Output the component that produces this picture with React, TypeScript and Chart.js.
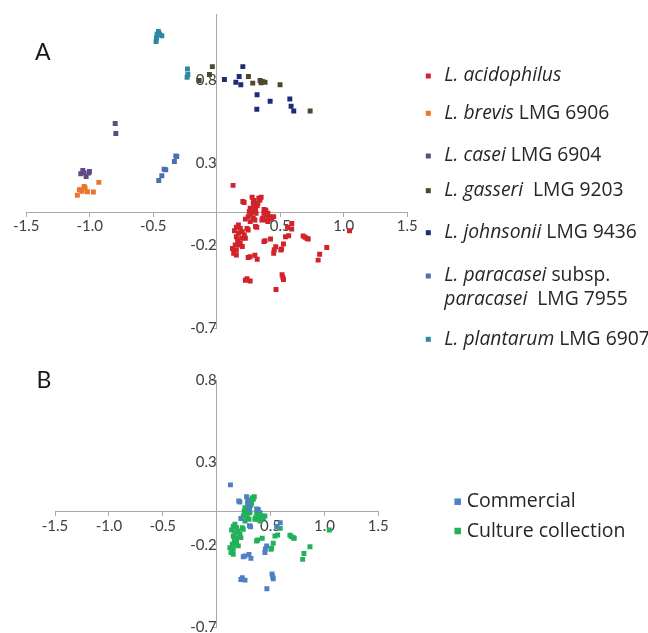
import React, { useEffect, useRef } from 'react';
import { Chart, registerables } from 'chart.js';

Chart.register(...registerables);

// ---------- data ----------
const X_TICKS = [-1.5, -1.0, -0.5, 0.5, 1.0, 1.5];
const Y_TICKS = [-0.7, -0.2, 0.3, 0.8];

// L. acidophilus strains split by origin (panel B); panel A shows them all together
const COMMERCIAL: [number, number][] = [
  [0.128, 0.164], [0.215, 0.06], [0.205, 0.066], [0.278, 0.092], [0.296, 0.034], [0.305, 0.02],
  [0.372, 0.018], [0.386, 0.014], [0.225, -0.04], [0.305, -0.084], [0.315, -0.09], [0.59, -0.066],
  [0.557, -0.09], [0.464, -0.207], [0.452, -0.225], [0.448, -0.246], [0.247, -0.272], [0.262, -0.268],
  [0.3, -0.258], [0.318, -0.282], [0.225, -0.41], [0.238, -0.4], [0.263, -0.414], [0.514, -0.376],
  [0.52, -0.392], [0.525, -0.405], [0.466, -0.466], [0.29, 0.07],
];
const CULTURE: [number, number][] = [
  [0.331, 0.086], [0.349, 0.092], [0.34, 0.076], [0.293, 0.072], [0.287, 0.056], [0.324, 0.056],
  [0.318, 0.04], [0.263, 0.026], [0.278, 0.016], [0.256, 0.006], [0.293, 0.006], [0.309, -0.005],
  [0.269, -0.009], [0.247, -0.025], [0.287, -0.035], [0.263, -0.055], [0.3, -0.045], [0.371, -0.005],
  [0.386, -0.015], [0.402, -0.005], [0.417, -0.025], [0.361, -0.035], [0.386, -0.045], [0.433, -0.035],
  [0.448, -0.025], [0.411, -0.041], [0.355, -0.045], [0.402, -0.055], [0.17, -0.075], [0.154, -0.089],
  [0.185, -0.096], [0.139, -0.11], [0.201, -0.116], [0.17, -0.126], [0.216, -0.136], [0.154, -0.146],
  [0.195, -0.156], [0.225, -0.156], [0.164, -0.17], [0.185, -0.186], [0.145, -0.196], [0.176, -0.197],
  [0.201, -0.206], [0.123, -0.217], [0.154, -0.227], [0.133, -0.247], [0.154, -0.257], [0.238, -0.096],
  [0.247, -0.106], [0.371, -0.176], [0.38, -0.17], [0.423, -0.16], [0.525, -0.19], [0.51, -0.221],
  [0.504, -0.227], [0.541, -0.146], [0.566, -0.14], [0.68, -0.142], [0.695, -0.15], [0.72, -0.16],
  [0.711, -0.157], [0.866, -0.211], [0.81, -0.252], [0.798, -0.288], [1.045, -0.11], [0.59, -0.1],
];
const ACIDOPHILUS: [number, number][] = [...COMMERCIAL, ...CULTURE];
const BREVIS: [number, number][] = [
  [-0.929, 0.182], [-1.045, 0.158], [-1.082, 0.138], [-1.061, 0.128], [-1.019, 0.126],
  [-0.972, 0.124], [-1.098, 0.104], [-1.037, 0.148], [-1.07, 0.138],
];
const CASEI: [number, number][] = [
  [-0.8, 0.538], [-0.795, 0.478], [-1.055, 0.254], [-1.071, 0.234], [-1.029, 0.218],
  [-1.003, 0.248], [-1.008, 0.238], [-1.05, 0.242],
];
const GASSERI: [number, number][] = [
  [-0.035, 0.882], [-0.058, 0.834], [-0.139, 0.798], [0.249, 0.822], [0.283, 0.782], [0.341, 0.798],
  [0.359, 0.792], [0.38, 0.788], [0.349, 0.784], [0.498, 0.772], [0.735, 0.614],
];
const JOHNSONII: [number, number][] = [
  [0.06, 0.804], [0.205, 0.882], [0.176, 0.822], [0.15, 0.788], [0.189, 0.772], [0.317, 0.712],
  [0.42, 0.672], [0.315, 0.624], [0.575, 0.686], [0.585, 0.642], [0.606, 0.614],
];
const PARACASEI: [number, number][] = [
  [-0.323, 0.342], [-0.315, 0.338], [-0.334, 0.308], [-0.402, 0.258], [-0.415, 0.262],
  [-0.433, 0.222], [-0.457, 0.194],
];
const PLANTARUM: [number, number][] = [
  [-0.46, 1.094], [-0.47, 1.078], [-0.433, 1.068], [-0.475, 1.054], [-0.478, 1.034], [-0.45, 1.08],
  [-0.231, 0.868], [-0.228, 0.834], [-0.234, 0.818],
];

type Seg = [string, boolean]; // [text, italic]
const SERIES_A: { label: Seg[][]; color: string; data: [number, number][] }[] = [
  { label: [[['L. acidophilus', true]]], color: '#d0232a', data: ACIDOPHILUS },
  { label: [[['L. brevis', true], [' LMG 6906', false]]], color: '#e8772a', data: BREVIS },
  { label: [[['L. casei', true], [' LMG 6904', false]]], color: '#604a86', data: CASEI },
  { label: [[['L. gasseri', true], ['  LMG 9203', false]]], color: '#4a4a2c', data: GASSERI },
  { label: [[['L. johnsonii', true], [' LMG 9436', false]]], color: '#1f2b78', data: JOHNSONII },
  {
    label: [[['L. paracasei', true], [' subsp.', false]], [['paracasei', true], ['  LMG 7955', false]]],
    color: '#4a70ad', data: PARACASEI,
  },
  { label: [[['L. plantarum', true], [' LMG 6907', false]]], color: '#2f87a0', data: PLANTARUM },
];
const SERIES_B: { label: Seg[][]; color: string; data: [number, number][] }[] = [
  { label: [[['Commercial', false]]], color: '#4f7fc4', data: COMMERCIAL },
  { label: [[['Culture collection', false]]], color: '#22b15a', data: CULTURE },
];

// ---------- styling helpers ----------
const FONT = 'Lato, "Open Sans", sans-serif';
const LEGEND_FONT = '"Open Sans", Lato, sans-serif';
const AXIS_COLOR = '#a8a8a8';
const TICK_COLOR = '#404040';

function makeScales(yMax: number) {
  return {
    x: {
      type: 'linear' as const,
      min: -1.5,
      max: 1.5,
      position: { y: 0 },
      afterBuildTicks: (s: any) => { s.ticks = X_TICKS.map((v) => ({ value: v })); },
      ticks: {
        autoSkip: false, maxRotation: 0, padding: 1, color: TICK_COLOR,
        font: { size: 15, family: FONT },
        callback: (v: any) => Number(v).toFixed(1),
      },
      grid: { drawOnChartArea: false, drawTicks: true, tickLength: 4, color: AXIS_COLOR },
      border: { color: AXIS_COLOR, width: 1 },
    },
    y: {
      type: 'linear' as const,
      min: -0.7,
      max: yMax,
      position: { x: 0 },
      afterBuildTicks: (s: any) => { s.ticks = Y_TICKS.map((v) => ({ value: v })); },
      ticks: {
        autoSkip: false, padding: 3, color: TICK_COLOR,
        font: { size: 15, family: FONT },
        callback: (v: any) => Number(v).toFixed(1),
      },
      grid: { drawOnChartArea: false, drawTicks: true, tickLength: 4, color: AXIS_COLOR },
      border: { color: AXIS_COLOR, width: 1 },
    },
  };
}

function overlay(cfg: {
  series: { label: Seg[][]; color: string }[];
  rows: number[]; markerX: number; markerSize: number; textX: number; lineGap: number; fontSize: number;
  panel: string; panelX: number; panelY: number;
}) {
  return {
    id: 'overlay' + cfg.panel,
    afterDraw(chart: any) {
      const ctx = chart.ctx as CanvasRenderingContext2D;
      ctx.save();
      cfg.series.forEach((s, i) => {
        const y = cfg.rows[i];
        ctx.fillStyle = s.color;
        ctx.fillRect(cfg.markerX - cfg.markerSize / 2, y - cfg.markerSize / 2, cfg.markerSize, cfg.markerSize);
        s.label.forEach((line, li) => {
          let x = cfg.textX;
          const ly = y + li * cfg.lineGap;
          for (const [t, it] of line) {
            ctx.font = `${it ? 'italic ' : ''}${cfg.fontSize}px ${LEGEND_FONT}`;
            ctx.fillStyle = '#262626';
            ctx.textBaseline = 'middle';
            ctx.textAlign = 'left';
            ctx.fillText(t, x, ly);
            x += ctx.measureText(t).width;
          }
        });
      });
      ctx.font = `23px ${FONT}`;
      ctx.fillStyle = '#1a1a1a';
      ctx.textBaseline = 'alphabetic';
      ctx.textAlign = 'left';
      ctx.fillText(cfg.panel, cfg.panelX, cfg.panelY);
      ctx.restore();
    },
  };
}

function datasets(series: { label: Seg[][]; color: string; data: [number, number][] }[]) {
  return series.map((s) => ({
    label: s.label.map((l) => l.map((p) => p[0]).join('')).join(' '),
    data: s.data.map(([x, y]) => ({ x, y })),
    backgroundColor: s.color,
    borderColor: s.color,
    borderWidth: 0,
    pointStyle: 'rect' as const,
    pointRadius: 3.5,
  }));
}

export default function App() {
  const aRef = useRef<HTMLCanvasElement>(null);
  const bRef = useRef<HTMLCanvasElement>(null);

  useEffect(() => {
    Chart.defaults.font.family = FONT;
    const common = {
      responsive: false,
      animation: false as const,
      events: [] as any[],
    };
    const a = new Chart(aRef.current!, {
      type: 'scatter',
      data: { datasets: datasets(SERIES_A) },
      options: {
        ...common,
        layout: { padding: { left: 26.3, right: 240.7, top: 14, bottom: 31.7 } },
        scales: makeScales(1.2) as any,
        plugins: { legend: { display: false }, tooltip: { enabled: false } },
      },
      plugins: [overlay({
        series: SERIES_A, rows: [76, 113.3, 156, 190.7, 232.7, 276, 339.3],
        markerX: 428.3, markerSize: 5, textX: 444.3, lineGap: 23.3, fontSize: 19.3,
        panel: 'A', panelX: 35, panelY: 59.5,
      })],
    });
    const b = new Chart(bRef.current!, {
      type: 'scatter',
      data: { datasets: datasets(SERIES_B) },
      options: {
        ...common,
        layout: { padding: { left: 55, right: 269.7, top: 50, bottom: 12.7 } },
        scales: makeScales(0.8) as any,
        plugins: { legend: { display: false }, tooltip: { enabled: false } },
      },
      plugins: [overlay({
        series: SERIES_B, rows: [171.7, 201],
        markerX: 457.7, markerSize: 6.5, textX: 466.7, lineGap: 0, fontSize: 19.5,
        panel: 'B', panelX: 36.5, panelY: 57.5,
      })],
    });
    return () => { a.destroy(); b.destroy(); };
  }, []);

  return (
    <div style={{ position: 'fixed', left: 0, top: 0, width: 648, height: 633, overflow: 'hidden', background: '#fff' }}>
      <canvas ref={aRef} width={648} height={360}
        style={{ position: 'absolute', left: 0, top: 0, width: 648, height: 360 }} />
      <canvas ref={bRef} width={648} height={310}
        style={{ position: 'absolute', left: 0, top: 330, width: 648, height: 310 }} />
    </div>
  );
}
